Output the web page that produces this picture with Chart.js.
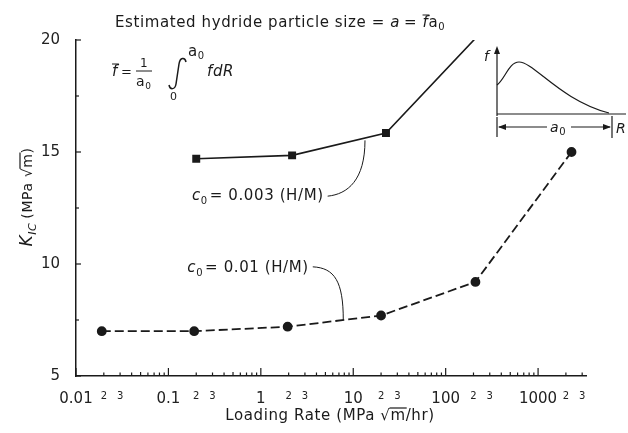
<!DOCTYPE html>
<html>
<head>
<meta charset="utf-8">
<script src="https://cdn.jsdelivr.net/npm/chart.js@4.4.1/dist/chart.umd.min.js"></script>
<style>
  html,body{margin:0;padding:0;background:#fff}
  #wrap{width:628px;height:433px}
</style>
</head>
<body>
<div id="wrap"><canvas id="c" width="628" height="433"></canvas></div>
<script>
/* ---- data ---- */
// c0 = 0.01 (H/M), dashed curve with dots
const rateLow = [0.019, 0.19, 1.95, 20, 210, 2300];
const kLow    = [7.0, 7.0, 7.2, 7.7, 9.2, 15.0];
// c0 = 0.003 (H/M), solid curve with squares (last point runs off the top)
const rateHigh = [0.2, 2.18, 22.6, 300];
const kHigh    = [14.7, 14.85, 15.85, 20.75];
const highMarks = [true, true, true, false];

const xMin = 0.01, xMax = 3300;
const yMin = 5, yMax = 20;
const xDecades = [-2, -1, 0, 1, 2, 3];
const xSmallLabels = [2, 3];
const yMajor = [5, 10, 15, 20];
const yMinorStep = 2.5;

const INK = '#1a1a1a';
const FONT = '"DejaVu Sans", "Liberation Sans", sans-serif';

/* ---- little text helpers ---- */
function runText(ctx, parts, x, y){
  let cx = x;
  parts.forEach(p=>{
    ctx.font = p.f;
    const w = ctx.measureText(p.t).width;
    ctx.fillText(p.t, cx, y + (p.dy||0));
    if(p.over){
      ctx.beginPath();
      ctx.moveTo(cx - (p.overL||0), y + p.over);
      ctx.lineTo(cx + w + 1, y + p.over);
      ctx.stroke();
    }
    cx += w + (p.gap||0);
  });
  return cx - x;
}
function runWidth(ctx, parts){
  let w = 0;
  parts.forEach(p=>{ctx.font = p.f; w += ctx.measureText(p.t).width + (p.gap||0);});
  return w;
}
function arrowHead(ctx, x, y, dir, len, half){
  ctx.beginPath();
  if(dir==='up'){ctx.moveTo(x,y);ctx.lineTo(x-half,y+len);ctx.lineTo(x+half,y+len);}
  if(dir==='left'){ctx.moveTo(x,y);ctx.lineTo(x+len,y-half);ctx.lineTo(x+len,y+half);}
  if(dir==='right'){ctx.moveTo(x,y);ctx.lineTo(x-len,y-half);ctx.lineTo(x-len,y+half);}
  ctx.closePath();ctx.fill();
}

/* ---- inward ticks, titles and notes ---- */
const decor = {
  id:'decor',
  afterDraw(chart){
    const ctx = chart.ctx, xs = chart.scales.x, ys = chart.scales.y;
    const a = chart.chartArea;
    ctx.save();
    ctx.strokeStyle = INK; ctx.fillStyle = INK; ctx.lineWidth = 1.2;

    // ticks pointing into the plot
    xs.ticks.forEach(t=>{
      const px = xs.getPixelForValue(t.value);
      const m = mant(t.value);
      const len = m===1 ? 8 : (m===5 ? 4 : 3.5);
      ctx.beginPath(); ctx.moveTo(px, a.bottom); ctx.lineTo(px, a.bottom-len); ctx.stroke();
    });
    ys.ticks.forEach(t=>{
      const py = ys.getPixelForValue(t.value);
      const len = t.value % 5 === 0 ? 5 : 3;
      ctx.beginPath(); ctx.moveTo(a.left, py); ctx.lineTo(a.left+len, py); ctx.stroke();
    });

    ctx.textBaseline = 'alphabetic';
    ctx.textAlign = 'left';
    ctx.letterSpacing = '0.6px';

    // y axis title
    ctx.save();
    ctx.translate(26, 197);
    ctx.rotate(-Math.PI/2);
    const yt = [
      {t:'K', f:'italic 17px '+FONT},
      {t:'IC', f:'italic 11px '+FONT, dy:4, gap:4},
      {t:'(MPa ', f:'14px '+FONT},
      {t:'\u221A', f:'14px '+FONT},
      {t:'m', f:'14px '+FONT, over:-12, overL:1},
      {t:')', f:'14px '+FONT}
    ];
    runText(ctx, yt, -runWidth(ctx, yt)/2, 6);
    ctx.restore();

    // x axis title
    const xt = [
      {t:'Loading Rate (MPa ', f:'15px '+FONT},
      {t:'\u221A', f:'15px '+FONT},
      {t:'m', f:'15px '+FONT, over:-12, overL:1},
      {t:'/hr)', f:'15px '+FONT}
    ];
    runText(ctx, xt, 330 - runWidth(ctx, xt)/2, 420);

    // heading
    ctx.lineWidth = 1;
    runText(ctx, [
      {t:'Estimated hydride particle size = ', f:'15px '+FONT},
      {t:'a', f:'italic 15px '+FONT, gap:4},
      {t:'= ', f:'15px '+FONT},
      {t:'f', f:'italic 15px '+FONT, over:-12},
      {t:'a', f:'15px '+FONT},
      {t:'0', f:'10px '+FONT, dy:3}
    ], 115, 27);

    // mean-value formula
    runText(ctx, [{t:'f', f:'italic 15px '+FONT, over:-12, gap:3},{t:'=', f:'13px '+FONT}], 112, 76);
    ctx.font = '12px '+FONT; ctx.fillText('1', 140, 67);
    ctx.beginPath(); ctx.moveTo(136, 71); ctx.lineTo(152, 71); ctx.stroke();
    runText(ctx, [{t:'a', f:'14px '+FONT},{t:'0', f:'9px '+FONT, dy:3}], 136, 86);
    ctx.lineWidth = 1.5;
    ctx.beginPath();
    ctx.moveTo(169, 85);
    ctx.bezierCurveTo(170, 90, 175, 90, 176, 84);
    ctx.lineTo(179, 64);
    ctx.bezierCurveTo(180, 57, 185, 57, 186, 62);
    ctx.stroke();
    ctx.lineWidth = 1;
    runText(ctx, [{t:'a', f:'15px '+FONT},{t:'0', f:'10px '+FONT, dy:3}], 188, 56);
    ctx.font = '11px '+FONT; ctx.fillText('0', 170, 100);
    ctx.font = 'italic 15px '+FONT; ctx.fillText('fdR', 207, 76);

    // inset: size distribution sketch
    ctx.lineWidth = 1.2;
    ctx.beginPath(); ctx.moveTo(497, 116); ctx.lineTo(497, 52); ctx.stroke();
    arrowHead(ctx, 497, 46, 'up', 8, 3);
    ctx.beginPath(); ctx.moveTo(497, 114); ctx.lineTo(626, 114); ctx.stroke();
    ctx.beginPath();
    ctx.moveTo(497, 85);
    ctx.bezierCurveTo(505, 79, 509, 62, 519, 62);
    ctx.bezierCurveTo(534, 62, 560, 100, 609, 113);
    ctx.stroke();
    ctx.font = 'italic 14px '+FONT; ctx.fillText('f', 484, 61);
    ctx.beginPath(); ctx.moveTo(497, 117); ctx.lineTo(497, 137); ctx.stroke();
    ctx.beginPath(); ctx.moveTo(612, 116); ctx.lineTo(612, 138); ctx.stroke();
    ctx.beginPath(); ctx.moveTo(499, 127); ctx.lineTo(547, 127); ctx.moveTo(571, 127); ctx.lineTo(610, 127); ctx.stroke();
    arrowHead(ctx, 498, 127, 'left', 8, 3);
    arrowHead(ctx, 611, 127, 'right', 8, 3);
    runText(ctx, [{t:'a', f:'italic 14px '+FONT},{t:'0', f:'10px '+FONT, dy:3}], 550, 132);
    ctx.font = 'italic 14px '+FONT; ctx.fillText('R', 616, 133);

    // curve labels with leaders
    const lab1 = [{t:'c', f:'italic 15px '+FONT},{t:'0', f:'10px '+FONT, dy:4, gap:2},{t:'= 0.003 (H/M)', f:'15px '+FONT}];
    const l1x = xs.getPixelForValue(0.18), l1y = ys.getPixelForValue(12.85);
    const w1 = runText(ctx, lab1, l1x, l1y);
    const e1x = xs.getPixelForValue(13.4), e1y = ys.getPixelForValue(15.52);
    ctx.lineWidth = 1;
    ctx.beginPath();
    ctx.moveTo(l1x + w1 + 4, l1y - 4);
    ctx.bezierCurveTo(l1x + w1 + 24, l1y - 6, e1x, l1y - 20, e1x, e1y);
    ctx.stroke();

    const lab2 = [{t:'c', f:'italic 15px '+FONT},{t:'0', f:'10px '+FONT, dy:4, gap:2},{t:'= 0.01 (H/M)', f:'15px '+FONT}];
    const l2x = xs.getPixelForValue(0.16), l2y = ys.getPixelForValue(9.65);
    const w2 = runText(ctx, lab2, l2x, l2y);
    const e2x = xs.getPixelForValue(7.8), e2y = ys.getPixelForValue(7.5);
    ctx.beginPath();
    ctx.moveTo(l2x + w2 + 4, l2y - 5);
    ctx.bezierCurveTo(l2x + w2 + 26, l2y - 4, e2x, l2y + 10, e2x, e2y);
    ctx.stroke();

    ctx.restore();
  }
};

/* ---- tick lists ---- */
const xTickVals = [];
xDecades.forEach(e=>{
  for(let m=1;m<=9;m++){
    const v = Number((m*Math.pow(10,e)).toPrecision(3));
    if(v>=xMin && v<=xMax) xTickVals.push(v);
  }
});
function mant(v){ return Math.round(v / Math.pow(10, Math.floor(Math.log10(v)+1e-9))); }
const yTickVals = [];
for(let v=yMin; v<=yMax+1e-9; v+=yMinorStep) yTickVals.push(v);

new Chart(document.getElementById('c'), {
  type:'line',
  data:{
    datasets:[
      {label:'c0 = 0.003 (H/M)',
       data:rateHigh.map((x,i)=>({x, y:kHigh[i]})),
       borderColor:INK, borderWidth:1.6, tension:0,
       pointStyle:'rect', pointRadius:highMarks.map(m=>m?4.5:0),
       pointBackgroundColor:INK, pointBorderColor:INK},
      {label:'c0 = 0.01 (H/M)',
       data:rateLow.map((x,i)=>({x, y:kLow[i]})),
       borderColor:INK, borderWidth:1.8, borderDash:[9,4], tension:0,
       pointStyle:'circle', pointRadius:4,
       pointBackgroundColor:INK, pointBorderColor:INK}
    ]
  },
  options:{
    responsive:false, animation:false, devicePixelRatio:1,
    layout:{padding:{top:40, right:42, left:0, bottom:0}},
    plugins:{legend:{display:false}, tooltip:{enabled:false}},
    scales:{
      x:{type:'logarithmic', position:'bottom', min:xMin, max:xMax,
        grid:{display:false},
        border:{display:true, color:INK, width:1.5},
        afterBuildTicks:s=>{s.ticks = xTickVals.map(v=>({value:v}));},
        afterFit:s=>{s.height = 57;},
        ticks:{autoSkip:false, maxRotation:0, minRotation:0, padding:6, color:'#222',
          font:c=>{const m = c.tick ? mant(c.tick.value) : 1; return {family:FONT, size: m===1 ? 15 : 10};},
          callback:v=>{const m = mant(v); if(m===1) return String(v); return xSmallLabels.includes(m) ? String(m) : '';}}
      },
      y:{type:'linear', min:yMin, max:yMax,
        grid:{display:false},
        border:{display:true, color:INK, width:1.5},
        afterBuildTicks:s=>{s.ticks = yTickVals.map(v=>({value:v}));},
        afterFit:s=>{s.width = 76;},
        ticks:{padding:8, color:'#222', font:{family:FONT, size:15},
          callback:v=>yMajor.includes(v) ? String(v) : ''}
      }
    }
  },
  plugins:[decor]
});
</script>
</body>
</html>
